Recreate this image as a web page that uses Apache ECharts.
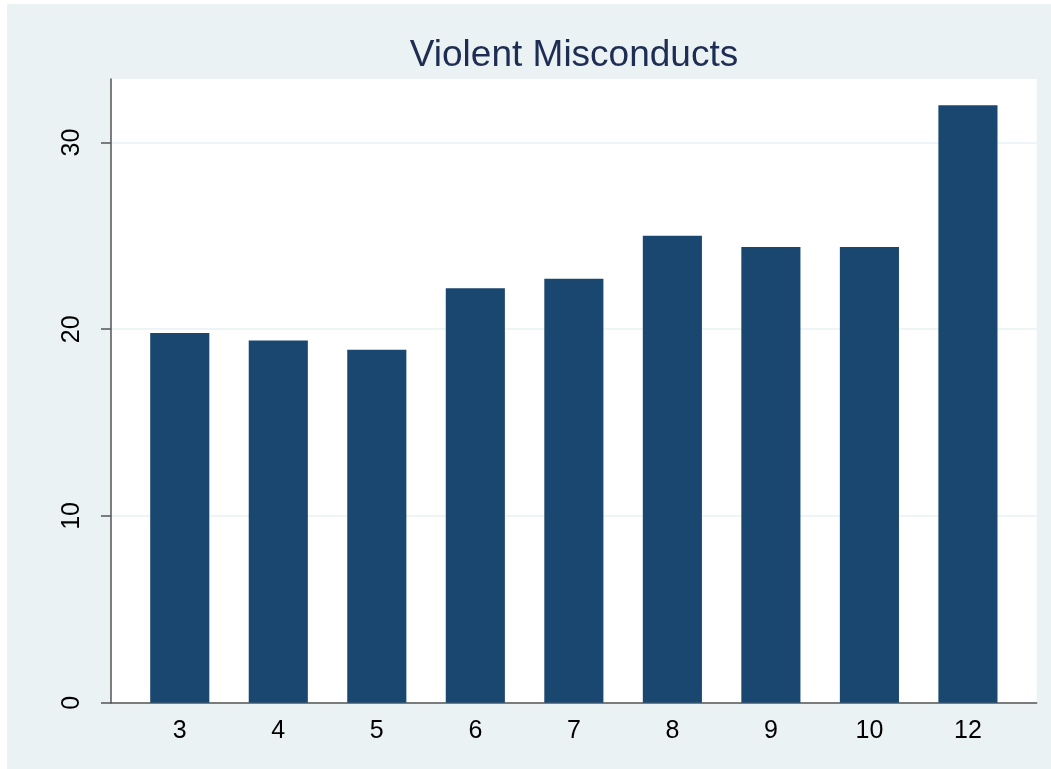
<!DOCTYPE html>
<html>
<head>
<meta charset="utf-8">
<title>Violent Misconducts</title>
<script src="https://cdn.jsdelivr.net/npm/echarts@6/dist/echarts.min.js"></script>
<style>
  html, body { margin: 0; padding: 0; background: #ffffff; }
  #chart { position: absolute; left: 7px; top: 4px; width: 1044px; height: 765px; }
</style>
</head>
<body>
<div id="chart"></div>
<script>
// data
const categories = ['3', '4', '5', '6', '7', '8', '9', '10', '12'];
const violentMisconducts = [19.8, 19.4, 18.9, 22.2, 22.7, 25.0, 24.4, 24.4, 32.0];
const yTicks = [0, 10, 20, 30];

const chart = echarts.init(document.getElementById('chart'));

const labelFont = {
  fontFamily: 'Liberation Sans, Arial, sans-serif',
  fontSize: 25,
  color: '#000000'
};

chart.setOption({
  backgroundColor: '#EAF2F3',
  animation: false,
  title: {
    text: 'Violent Misconducts',
    left: 567,
    top: 33,
    padding: 0,
    textAlign: 'center',
    textStyle: {
      fontFamily: 'Liberation Sans, Arial, sans-serif',
      fontSize: 37,
      fontWeight: 'normal',
      color: '#1E2D53'
    }
  },
  grid: [
    // bars, inset so the outer bars keep Stata's extra margin
    { left: 123.5, right: 33.8, top: 75, bottom: 66.3 },
    // full plot region: white background, axes and grid lines
    { left: 104, right: 14.3, top: 75, bottom: 66.3, show: true,
      backgroundColor: '#ffffff', borderWidth: 0, z: 0 }
  ],
  xAxis: [
    {
      type: 'category',
      gridIndex: 0,
      data: categories,
      axisLine: { show: false },
      axisTick: { show: false },
      axisLabel: Object.assign({ margin: 16 }, labelFont)
    },
    {
      type: 'value',
      gridIndex: 1,
      min: 0,
      max: 1,
      axisLine: { show: true, lineStyle: { color: '#555555', width: 1.5 } },
      axisTick: { show: false },
      axisLabel: { show: false },
      splitLine: { show: false }
    }
  ],
  yAxis: [
    {
      type: 'value',
      gridIndex: 0,
      min: 0,
      max: 33.4,
      show: false
    },
    {
      type: 'value',
      gridIndex: 1,
      min: 0,
      max: 33.4,
      axisLine: { show: true, lineStyle: { color: '#555555', width: 1.5 } },
      axisTick: { show: true, length: 10, customValues: yTicks,
        lineStyle: { color: '#555555', width: 1.5 } },
      axisLabel: Object.assign({ rotate: 90, margin: 26, customValues: yTicks }, labelFont),
      splitLine: { show: true, lineStyle: { color: '#EAF2F3', width: 1.5 } }
    }
  ],
  series: [
    {
      type: 'bar',
      xAxisIndex: 0,
      yAxisIndex: 0,
      data: violentMisconducts,
      barWidth: '60%',
      itemStyle: { color: '#1A476F' },
      z: 3
    }
  ]
});
</script>
</body>
</html>
